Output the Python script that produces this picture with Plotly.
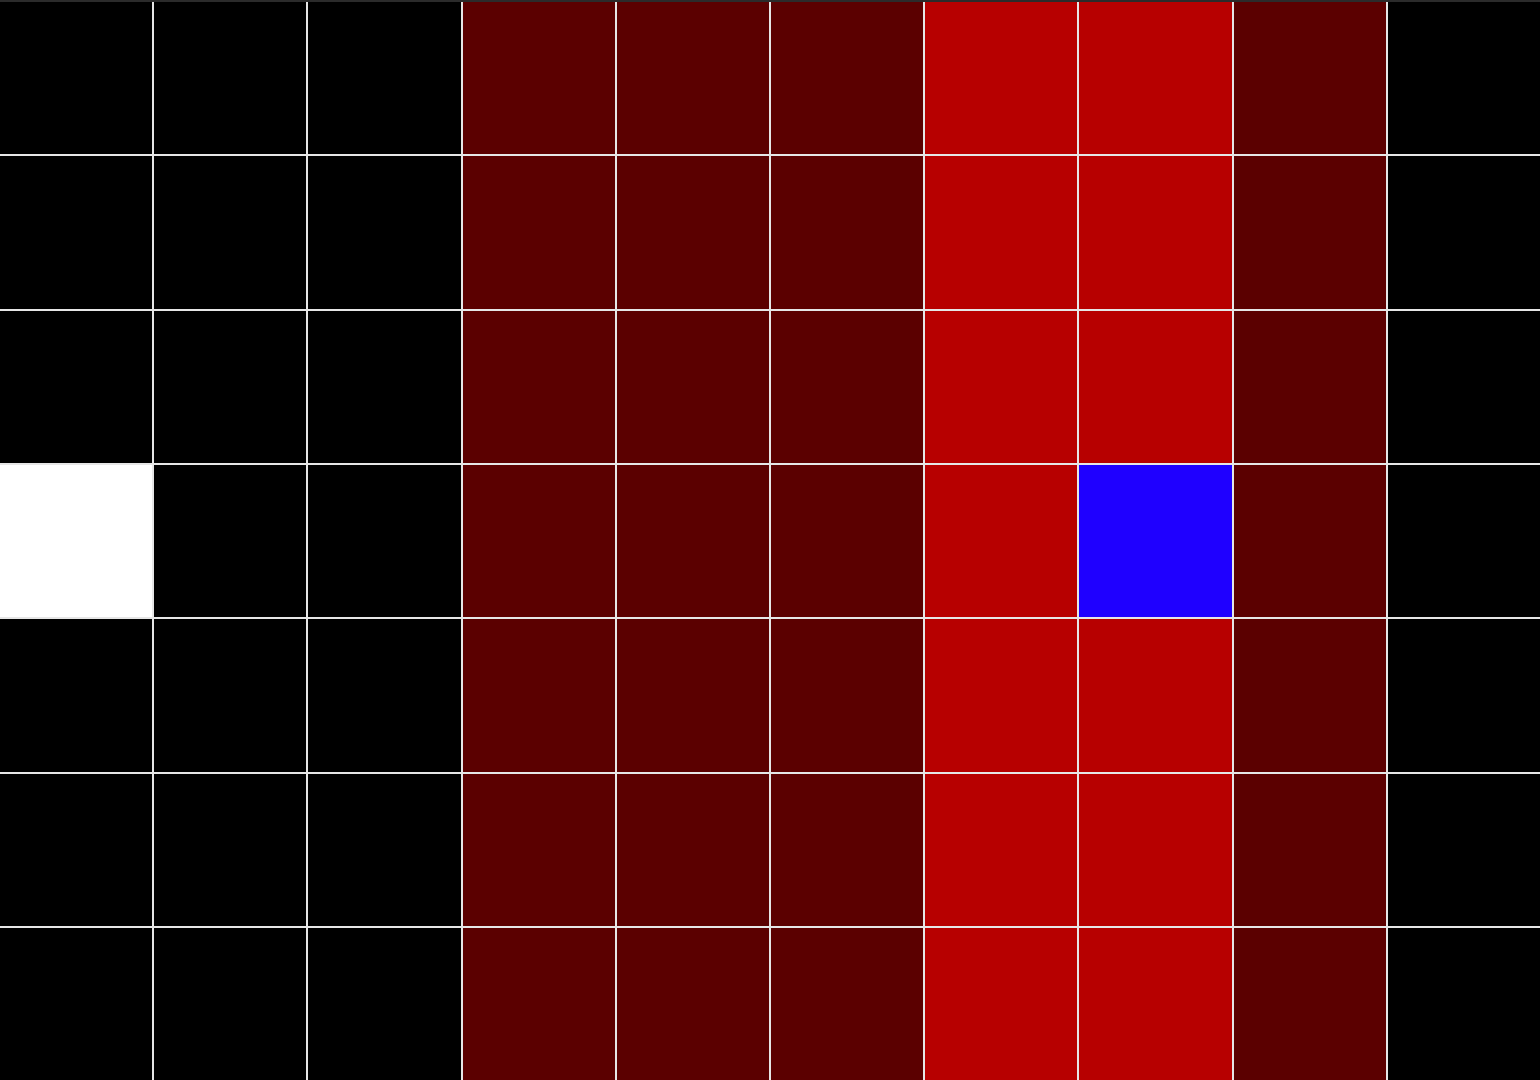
import plotly.graph_objects as go

columns = ["C1", "C2", "C3", "C4", "C5", "C6", "C7", "C8", "C9", "C10"]
rows = ["R1", "R2", "R3", "R4", "R5", "R6", "R7"]

# level codes: 0 = black, 1 = dark red, 2 = red, 3 = white, 4 = blue
row_1 = [0, 0, 0, 1, 1, 1, 2, 2, 1, 0]
row_2 = [0, 0, 0, 1, 1, 1, 2, 2, 1, 0]
row_3 = [0, 0, 0, 1, 1, 1, 2, 2, 1, 0]
row_4 = [3, 0, 0, 1, 1, 1, 2, 4, 1, 0]
row_5 = [0, 0, 0, 1, 1, 1, 2, 2, 1, 0]
row_6 = [0, 0, 0, 1, 1, 1, 2, 2, 1, 0]
row_7 = [0, 0, 0, 1, 1, 1, 2, 2, 1, 0]

level_colors = ["rgb(0,0,0)", "rgb(91,0,0)", "rgb(183,0,0)", "rgb(255,255,255)", "rgb(31,0,255)"]

z = [row_1, row_2, row_3, row_4, row_5, row_6, row_7]
n = len(level_colors)
colorscale = []
for i, c in enumerate(level_colors):
    colorscale.append([i / n, c])
    colorscale.append([(i + 1) / n, c])

fig = go.Figure(go.Heatmap(
    z=z, x=list(range(len(columns))), y=list(range(len(rows))),
    colorscale=colorscale, zmin=-0.5, zmax=n - 0.5,
    showscale=False, xgap=2, ygap=2,
))
edge = 0.0068
fig.update_layout(
    width=1540, height=1080,
    margin=dict(l=0, r=0, t=2, b=0),
    paper_bgcolor="#2b2b2b",
    plot_bgcolor="#e6e6e6",
    xaxis=dict(visible=False, showgrid=False, zeroline=False,
               range=[-0.5 + edge, len(columns) - 0.5 - edge]),
    yaxis=dict(visible=False, showgrid=False, zeroline=False,
               range=[len(rows) - 0.5 - edge, -0.5 + edge]),
)
fig.write_html("out.html")
